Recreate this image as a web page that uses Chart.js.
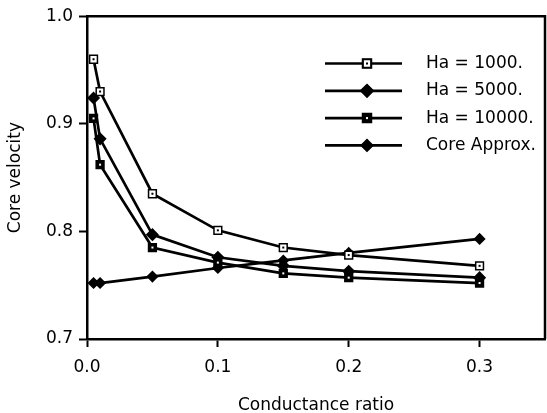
<!DOCTYPE html>
<html>
<head>
<meta charset="utf-8">
<script src="https://cdn.jsdelivr.net/npm/chart.js@4.4.1/dist/chart.umd.min.js"></script>
<style>
  body { margin: 0; background: #fff; }
  #wrap { width: 547px; height: 413px; }
</style>
</head>
<body>
<div id="wrap"><canvas id="myChart" width="547" height="413"></canvas></div>
<script>
// conductance ratio (x) and core velocity for each case
const ratios = [0.005, 0.01, 0.05, 0.1, 0.15, 0.2, 0.3];
const ha1000 = [0.960, 0.930, 0.835, 0.801, 0.785, 0.778, 0.768];
const ha5000 = [0.924, 0.886, 0.797, 0.776, 0.768, 0.763, 0.757];
const ha10000 = [0.905, 0.862, 0.785, 0.771, 0.761, 0.757, 0.752];
const coreApprox = [0.752, 0.752, 0.758, 0.766, 0.773, 0.780, 0.793];

const seriesNames = ["Ha = 1000.", "Ha = 5000.", "Ha = 10000.", "Core Approx."];
const xTicks = [0, 0.1, 0.2, 0.3];
const yTicks = [0.7, 0.8, 0.9, 1.0];

const FONT = "'DejaVu Sans', sans-serif";
const INK = '#000';

function toPoints(values) {
    return values.map((v, i) => ({ x: ratios[i], y: v }));
}

function serie(label, values, style, radius, fill, dot) {
    return {
        label: label,
        data: toPoints(values),
        borderColor: INK,
        borderWidth: 2.7,
        pointStyle: style,
        pointRadius: radius,
        pointBorderWidth: 1.5,
        pointBorderColor: INK,
        pointBackgroundColor: fill,
        innerDot: dot,
        tension: 0,
        fill: false
    };
}

// small dot inside the square markers
function drawDot(ctx, x, y, color) {
    ctx.save();
    ctx.fillStyle = color;
    ctx.fillRect(x - 1, y - 1, 2, 2);
    ctx.restore();
}

const markerDots = {
    id: 'markerDots',
    afterDatasetsDraw(chart) {
        const ctx = chart.ctx;
        chart.data.datasets.forEach((ds, i) => {
            if (!ds.innerDot) return;
            chart.getDatasetMeta(i).data.forEach(pt => drawDot(ctx, pt.x, pt.y, ds.innerDot));
        });
    }
};

// box around the plot (top and right sides)
const frame = {
    id: 'frame',
    afterDraw(chart) {
        const { ctx, chartArea: a } = chart;
        ctx.save();
        ctx.strokeStyle = INK;
        ctx.lineWidth = 2.5;
        ctx.beginPath();
        ctx.moveTo(a.left, a.top);
        ctx.lineTo(a.right, a.top);
        ctx.lineTo(a.right, a.bottom);
        ctx.stroke();
        ctx.restore();
    }
};

// legend with a line sample and the marker in the middle
const lineLegend = {
    id: 'lineLegend',
    afterDraw(chart) {
        const ctx = chart.ctx;
        ctx.save();
        chart.data.datasets.forEach((ds, i) => {
            const y = 63.5 + i * 27.3;
            ctx.strokeStyle = INK;
            ctx.lineWidth = 2.7;
            ctx.beginPath();
            ctx.moveTo(325, y);
            ctx.lineTo(402, y);
            ctx.stroke();
            Chart.helpers.drawPoint(ctx, {
                pointStyle: ds.pointStyle,
                radius: ds.pointRadius,
                borderWidth: ds.pointBorderWidth,
                rotation: 0
            }, 367, y);
            ctx.fillStyle = ds.pointBackgroundColor;
            ctx.strokeStyle = INK;
            ctx.lineWidth = ds.pointBorderWidth;
            ctx.fill();
            ctx.stroke();
            if (ds.innerDot) drawDot(ctx, 367, y, ds.innerDot);
            ctx.fillStyle = INK;
            ctx.font = "17px " + FONT;
            ctx.textBaseline = 'middle';
            ctx.textAlign = 'left';
            ctx.fillText(ds.label, 426, y);
        });
        ctx.restore();
    }
};

const ctx = document.getElementById('myChart').getContext('2d');
new Chart(ctx, {
    type: 'line',
    data: {
        datasets: [
            serie(seriesNames[0], ha1000, 'rect', 5.5, '#fff', INK),
            serie(seriesNames[1], ha5000, 'rectRot', 5.5, INK, null),
            serie(seriesNames[2], ha10000, 'rect', 5.5, INK, '#fff'),
            serie(seriesNames[3], coreApprox, 'rectRot', 5, INK, null)
        ]
    },
    options: {
        responsive: false,
        animation: false,
        layout: { autoPadding: false, padding: { top: 14, right: 2, left: 0, bottom: 0 } },
        plugins: {
            legend: { display: false },
            tooltip: { enabled: false }
        },
        scales: {
            x: {
                type: 'linear',
                min: 0,
                max: 0.35,
                afterBuildTicks: s => { s.ticks = xTicks.map(v => ({ value: v })); },
                afterFit: s => { s.height = 74; s.paddingLeft = 0; s.paddingRight = 0; },
                ticks: {
                    color: INK,
                    font: { family: FONT, size: 17 },
                    padding: 10,
                    callback: v => v.toFixed(1)
                },
                grid: { drawOnChartArea: false, tickLength: 8, tickColor: INK, tickWidth: 2 },
                border: { color: INK, width: 2.5 },
                title: {
                    display: true,
                    text: 'Conductance ratio',
                    color: INK,
                    font: { family: FONT, size: 17 },
                    padding: { top: 0, bottom: -3 }
                }
            },
            y: {
                min: 0.7,
                max: 1.0,
                afterBuildTicks: s => { s.ticks = yTicks.map(v => ({ value: v })); },
                afterFit: s => { s.width = 87; },
                ticks: {
                    color: INK,
                    font: { family: FONT, size: 17 },
                    padding: 6,
                    callback: v => v.toFixed(1)
                },
                grid: { drawOnChartArea: false, tickLength: 8, tickColor: INK, tickWidth: 2 },
                border: { color: INK, width: 2.5 },
                title: {
                    display: true,
                    text: 'Core velocity',
                    color: INK,
                    font: { family: FONT, size: 17 },
                    padding: { top: 5, bottom: 0 }
                }
            }
        }
    },
    plugins: [markerDots, frame, lineLegend]
});
</script>
</body>
</html>
